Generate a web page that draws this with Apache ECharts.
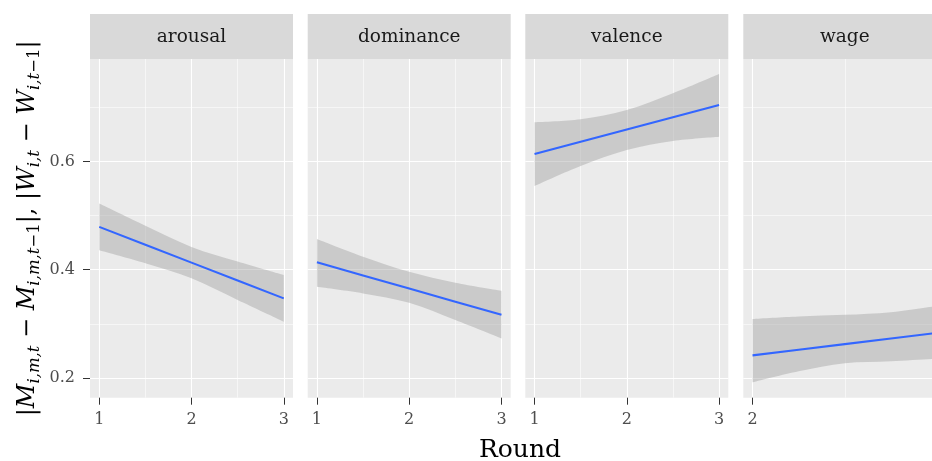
<!DOCTYPE html>
<html><head><meta charset="utf-8">
<script src="https://cdn.jsdelivr.net/npm/echarts@6/dist/echarts.min.js"></script>
<style>html,body{margin:0;padding:0;background:#fff}#c{width:932px;height:461px}</style>
</head><body><div id="c"></div>
<script>
// ---- data ----
const panels = ['arousal', 'dominance', 'valence', 'wage'];
const roundGrid = [1, 1.5, 2, 2.5, 3];
const wageRoundGrid = [2, 2.25, 2.5, 2.75, 3];
const xTicksMain = [1, 2, 3];
const xTicksMinor = [1.5, 2.5];
const wageXTicksMain = [2, 3];
const wageXTicksMinor = [2.5];
const yTicksMain = [0.2, 0.4, 0.6];
const yTicksMinor = [0.3, 0.5, 0.7];

const arousalFit   = [0.479, 0.446, 0.413, 0.380, 0.347];
const arousalUpper = [0.522, 0.481, 0.442, 0.415, 0.390];
const arousalLower = [0.436, 0.412, 0.384, 0.344, 0.304];

const dominanceFit   = [0.4135, 0.3893, 0.3651, 0.3409, 0.3167];
const dominanceUpper = [0.4565, 0.4238, 0.396, 0.3758, 0.361];
const dominanceLower = [0.3684, 0.3562, 0.3389, 0.3069, 0.2731];

const valenceFit   = [0.6135, 0.6361, 0.6587, 0.6813, 0.704];
const valenceUpper = [0.672, 0.6776, 0.6947, 0.7256, 0.7612];
const valenceLower = [0.5544, 0.5913, 0.6209, 0.6375, 0.6454];

const wageFit   = [0.2417, 0.2521, 0.2625, 0.2729, 0.2833];
const wageUpper = [0.309, 0.3136, 0.3166, 0.3215, 0.333];
const wageLower = [0.192, 0.2124, 0.2273, 0.231, 0.2357];

// ---- layout ----
const FONT = 'DejaVu Serif';
const gridLefts = [90, 307.7, 525.3, 743.3];
const gridW = 203, gridTop = 59, gridH = 338.7;
const stripTop = 14, stripH = 45;
const yMin = 0.1636, yMax = 0.789;

const panelData = [
  {x: roundGrid, fit: arousalFit, hi: arousalUpper, lo: arousalLower, min: 0.9, max: 3.1, major: xTicksMain, minor: xTicksMinor},
  {x: roundGrid, fit: dominanceFit, hi: dominanceUpper, lo: dominanceLower, min: 0.9, max: 3.1, major: xTicksMain, minor: xTicksMinor},
  {x: roundGrid, fit: valenceFit, hi: valenceUpper, lo: valenceLower, min: 0.9, max: 3.1, major: xTicksMain, minor: xTicksMinor},
  {x: wageRoundGrid, fit: wageFit, hi: wageUpper, lo: wageLower, min: 1.95, max: 3.05, major: wageXTicksMain, minor: wageXTicksMinor}
];

// smooth path through pixel points (Catmull-Rom -> cubic Bezier)
function smoothSegs(pts, start) {
  let d = start ? 'M' + pts[0][0] + ',' + pts[0][1] : 'L' + pts[0][0] + ',' + pts[0][1];
  const n = pts.length;
  for (let i = 0; i < n - 1; i++) {
    const p0 = pts[Math.max(i - 1, 0)], p1 = pts[i], p2 = pts[i + 1], p3 = pts[Math.min(i + 2, n - 1)];
    const c1 = [p1[0] + (p2[0] - p0[0]) / 6, p1[1] + (p2[1] - p0[1]) / 6];
    const c2 = [p2[0] - (p3[0] - p1[0]) / 6, p2[1] - (p3[1] - p1[1]) / 6];
    d += 'C' + c1[0] + ',' + c1[1] + ',' + c2[0] + ',' + c2[1] + ',' + p2[0] + ',' + p2[1];
  }
  return d;
}

function bandRender(params, api) {
  if (params.dataIndexInside !== 0) return null;
  const n = params.dataInsideLength;
  const up = [], lo = [];
  for (let k = 0; k < n; k++) {
    const x = api.value(0, k);
    up.push(api.coord([x, api.value(2, k)]));
    lo.push(api.coord([x, api.value(1, k)]));
  }
  const d = smoothSegs(up, true) + smoothSegs(lo.slice().reverse(), false) + 'Z';
  return {
    type: 'path',
    shape: {pathData: d},
    style: {fill: 'rgba(153,153,153,0.4)', stroke: null}
  };
}

const grid = [], xAxis = [], yAxis = [], series = [], graphic = [];
panelData.forEach((p, i) => {
  grid.push({left: gridLefts[i], top: gridTop, width: gridW, height: gridH, show: true,
    backgroundColor: '#EBEBEB', borderWidth: 0, outerBoundsMode: 'none', containLabel: false});
  xAxis.push({
    type: 'value', gridIndex: i, min: p.min, max: p.max,
    axisLine: {show: false},
    axisTick: {show: true, length: 7, lineStyle: {color: '#333333', width: 1}, customValues: p.major},
    axisLabel: {show: true, customValues: p.major, color: '#4D4D4D', fontFamily: FONT, fontSize: 16, margin: 14,
      showMaxLabel: true, hideOverlap: false, formatter: v => String(v)},
    splitLine: {show: true, lineStyle: {color: '#FFFFFF', width: 1.1}}
  });
  xAxis.push({
    type: 'value', gridIndex: i, min: p.min, max: p.max,
    axisLine: {show: false},
    axisTick: {show: false, customValues: p.minor},
    axisLabel: {show: false, customValues: p.minor},
    splitLine: {show: true, lineStyle: {color: '#FFFFFF', width: 0.55}}
  });
  yAxis.push({
    type: 'value', gridIndex: i, min: yMin, max: yMax,
    axisLine: {show: false},
    axisTick: {show: i === 0, length: 7, lineStyle: {color: '#333333', width: 1}, customValues: yTicksMain},
    axisLabel: {show: i === 0, customValues: yTicksMain, color: '#4D4D4D', fontFamily: FONT, fontSize: 16, margin: 15,
      padding: [5, 0, 0, 0], formatter: v => v.toFixed(1)},
    splitLine: {show: true, lineStyle: {color: '#FFFFFF', width: 1.1}},
    name: i === 0 ? '{b||}{m|M}{s|i,m,t}{o| − }{m|M}{s|i,m,t}{r|−1}{b||}{o|, }{b||}{m|W}{s|i,t}{o| − }{m|W}{s|i,t}{r|−1}{b||}' : '',
    nameLocation: 'middle', nameRotate: 90, nameGap: 47,
    nameTextStyle: {
      color: '#000', fontFamily: FONT, fontSize: 24,
      rich: {
        b: {fontFamily: FONT, fontSize: 24, lineHeight: 30, color: '#000', verticalAlign: 'middle'},
        m: {fontFamily: FONT, fontStyle: 'italic', fontSize: 24, lineHeight: 30, color: '#000', verticalAlign: 'middle'},
        o: {fontFamily: FONT, fontSize: 24, lineHeight: 30, color: '#000', verticalAlign: 'middle'},
        s: {fontFamily: FONT, fontStyle: 'italic', fontSize: 16.5, lineHeight: 16, color: '#000', verticalAlign: 'bottom'},
        r: {fontFamily: FONT, fontSize: 16.5, lineHeight: 16, color: '#000', verticalAlign: 'bottom'}
      }
    }
  });
  yAxis.push({
    type: 'value', gridIndex: i, min: yMin, max: yMax,
    axisLine: {show: false},
    axisTick: {show: false, customValues: yTicksMinor},
    axisLabel: {show: false, customValues: yTicksMinor},
    splitLine: {show: true, lineStyle: {color: '#FFFFFF', width: 0.55}}
  });

  series.push({
    type: 'custom', xAxisIndex: 2 * i, yAxisIndex: 2 * i, silent: true, z: 2,
    renderItem: bandRender,
    encode: {x: 0, y: [1, 2]},
    data: p.x.map((x, k) => [x, p.lo[k], p.hi[k]])
  });
  series.push({
    type: 'line', xAxisIndex: 2 * i, yAxisIndex: 2 * i, symbol: 'none', z: 3,
    lineStyle: {color: '#3366FF', width: 2.1},
    data: p.x.map((x, k) => [x, p.fit[k]])
  });

  graphic.push({
    type: 'rect', left: gridLefts[i], top: stripTop, silent: true,
    shape: {width: gridW, height: stripH}, style: {fill: '#D9D9D9'}
  });
  graphic.push({
    type: 'text', x: gridLefts[i] + gridW / 2, y: stripTop + stripH / 2 + 1, silent: true,
    style: {text: panels[i], fill: '#1A1A1A', font: '18.5px "' + FONT + '"', align: 'center', verticalAlign: 'middle'}
  });
});

graphic.push({
  type: 'text', x: 520, y: 450, silent: true,
  style: {text: 'Round', fill: '#000', font: '25px "' + FONT + '"', align: 'center', verticalAlign: 'middle'}
});

const chart = echarts.init(document.getElementById('c'), null, {renderer: 'canvas'});
chart.setOption({
  animation: false,
  backgroundColor: '#FFFFFF',
  grid, xAxis, yAxis, series, graphic
});
</script>
</body></html>
